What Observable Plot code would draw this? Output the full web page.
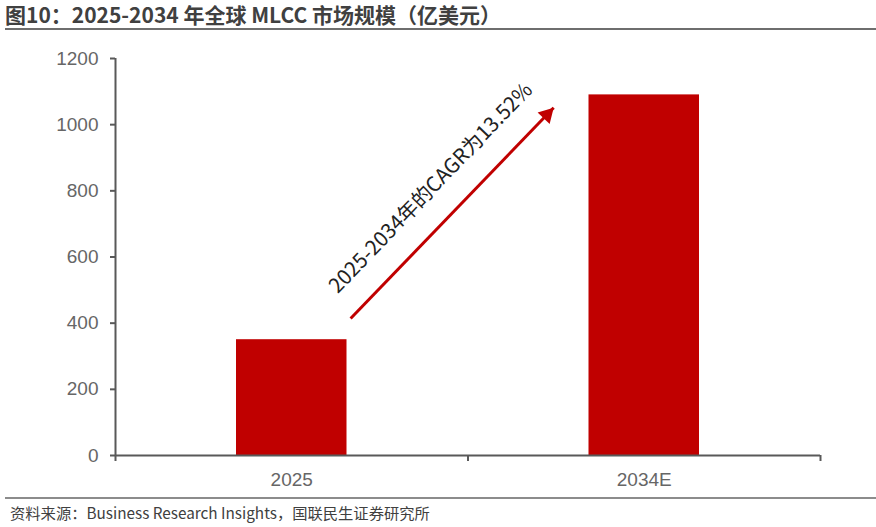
<!DOCTYPE html>
<html>
<head>
<meta charset="utf-8">
<script src="https://cdn.jsdelivr.net/npm/d3@7"></script>
<script src="https://cdn.jsdelivr.net/npm/@observablehq/plot@0.6"></script>
<style>
  html, body { margin: 0; padding: 0; background: #fff; }
  #wrap { position: relative; width: 876px; height: 527px; overflow: hidden; }
  #title { position: absolute; left: 5px; top: 1px; font-family: "Noto Sans CJK SC", sans-serif; font-weight: bold; font-size: 21px; color: #404040; line-height: 27px; white-space: nowrap; }
  #titleRule { position: absolute; left: 5px; right: 0; top: 28px; height: 2px; background: #6e6e6e; }
  #chart { position: absolute; left: 0; top: 30px; }
  #srcRule { position: absolute; left: 5px; right: 0; top: 497px; height: 1.5px; background: #8c8c8c; }
  #source { position: absolute; left: 10px; top: 501px; font-family: "Noto Sans CJK SC", sans-serif; font-size: 15.3px; color: #404040; line-height: 22px; white-space: nowrap; }
</style>
</head>
<body>
<div id="wrap">
  <div id="title">图10：2025-2034 年全球 MLCC 市场规模（亿美元）</div>
  <div id="titleRule"></div>
  <div id="chart"></div>
  <div id="srcRule"></div>
  <div id="source">资料来源：Business Research Insights，国联民生证券研究所</div>
</div>
<script>
// ---- data ----
const categories = ["2025", "2034E"];
const values = [350, 1090];
const yTicks = [0, 200, 400, 600, 800, 1000, 1200];
// annotation (in data space: x = category index position, y = market size)
const arrowFrom = [0.667, 414];
const arrowTo = [1.243, 1051];
const labelPos = [0.895, 808];
const labelText = "2025-2034年的CAGR为13.52%";

const bars = categories.map((c, i) => ({ cat: c, i, x1: i, x2: i + 1, value: values[i] }));
const barColor = "#C00000";
const axisColor = "#595959";

const W = 876, H = 462;
const mL = 115, mR = 56, mT = 28, mB = 37;
const sx = d3.scaleLinear([0, 2], [mL, W - mR]);
const sy = d3.scaleLinear([0, 1200], [H - mB, mT]);
const pdx = sx(arrowTo[0]) - sx(arrowFrom[0]);
const pdy = sy(arrowTo[1]) - sy(arrowFrom[1]);
const len = Math.hypot(pdx, pdy);
const ux = pdx / len, uy = pdy / len;
const headR = 6.2;
const tipOff = headR * 1.55;
const rot = Math.atan2(pdx, -pdy) * 180 / Math.PI;
const angleText = Math.atan2(pdy, pdx) * 180 / Math.PI;

const plot = Plot.plot({
  width: W,
  height: H,
  marginLeft: mL,
  marginRight: mR,
  marginTop: mT,
  marginBottom: mB,
  style: { fontFamily: "'Liberation Sans', Arial, sans-serif", background: "#fff", overflow: "visible" },
  x: { type: "linear", domain: [0, 2], axis: null },
  y: { domain: [0, 1200], axis: null },
  marks: [
    Plot.rectY(bars, { x1: "x1", x2: "x2", y1: 0, y2: "value", fill: barColor, insetLeft: 121, insetRight: 121 }),
    // y axis
    Plot.axisY({ ticks: yTicks, label: null, tickSize: 5, tickPadding: 12, stroke: axisColor, strokeWidth: 2, fill: "#666", fontSize: 19, tickFormat: d => String(d) }),
    Plot.ruleX([0], { y1: 0, y2: 1200, stroke: axisColor, strokeWidth: 2 }),
    // x axis
    Plot.ruleY([0], { x1: 0, x2: 2, stroke: axisColor, strokeWidth: 2 }),
    Plot.ruleX([0, 1, 2], { x: d => d, y1: 0, y2: 0, insetBottom: -6, stroke: axisColor, strokeWidth: 2 }),
    Plot.text(bars, { x: d => d.i + 0.5, y: 0, text: "cat", dy: 24, fill: "#666", fontSize: 19 }),
    // arrow
    Plot.link([0], {
      x1: () => arrowFrom[0], y1: () => arrowFrom[1],
      x2: () => arrowTo[0], y2: () => arrowTo[1],
      stroke: barColor, strokeWidth: 3
    }),
    Plot.dot([0], {
      x: () => arrowTo[0], y: () => arrowTo[1],
      symbol: "triangle", r: headR, fill: barColor, stroke: "none",
      rotate: rot, dx: -ux * tipOff, dy: -uy * tipOff
    }),
    Plot.text([labelText], {
      x: () => labelPos[0], y: () => labelPos[1], text: d => d,
      rotate: angleText, fontSize: 20.5, fill: "#222",
      fontFamily: "'Noto Sans CJK SC', sans-serif"
    })
  ]
});
document.getElementById("chart").appendChild(plot);
</script>
</body>
</html>
